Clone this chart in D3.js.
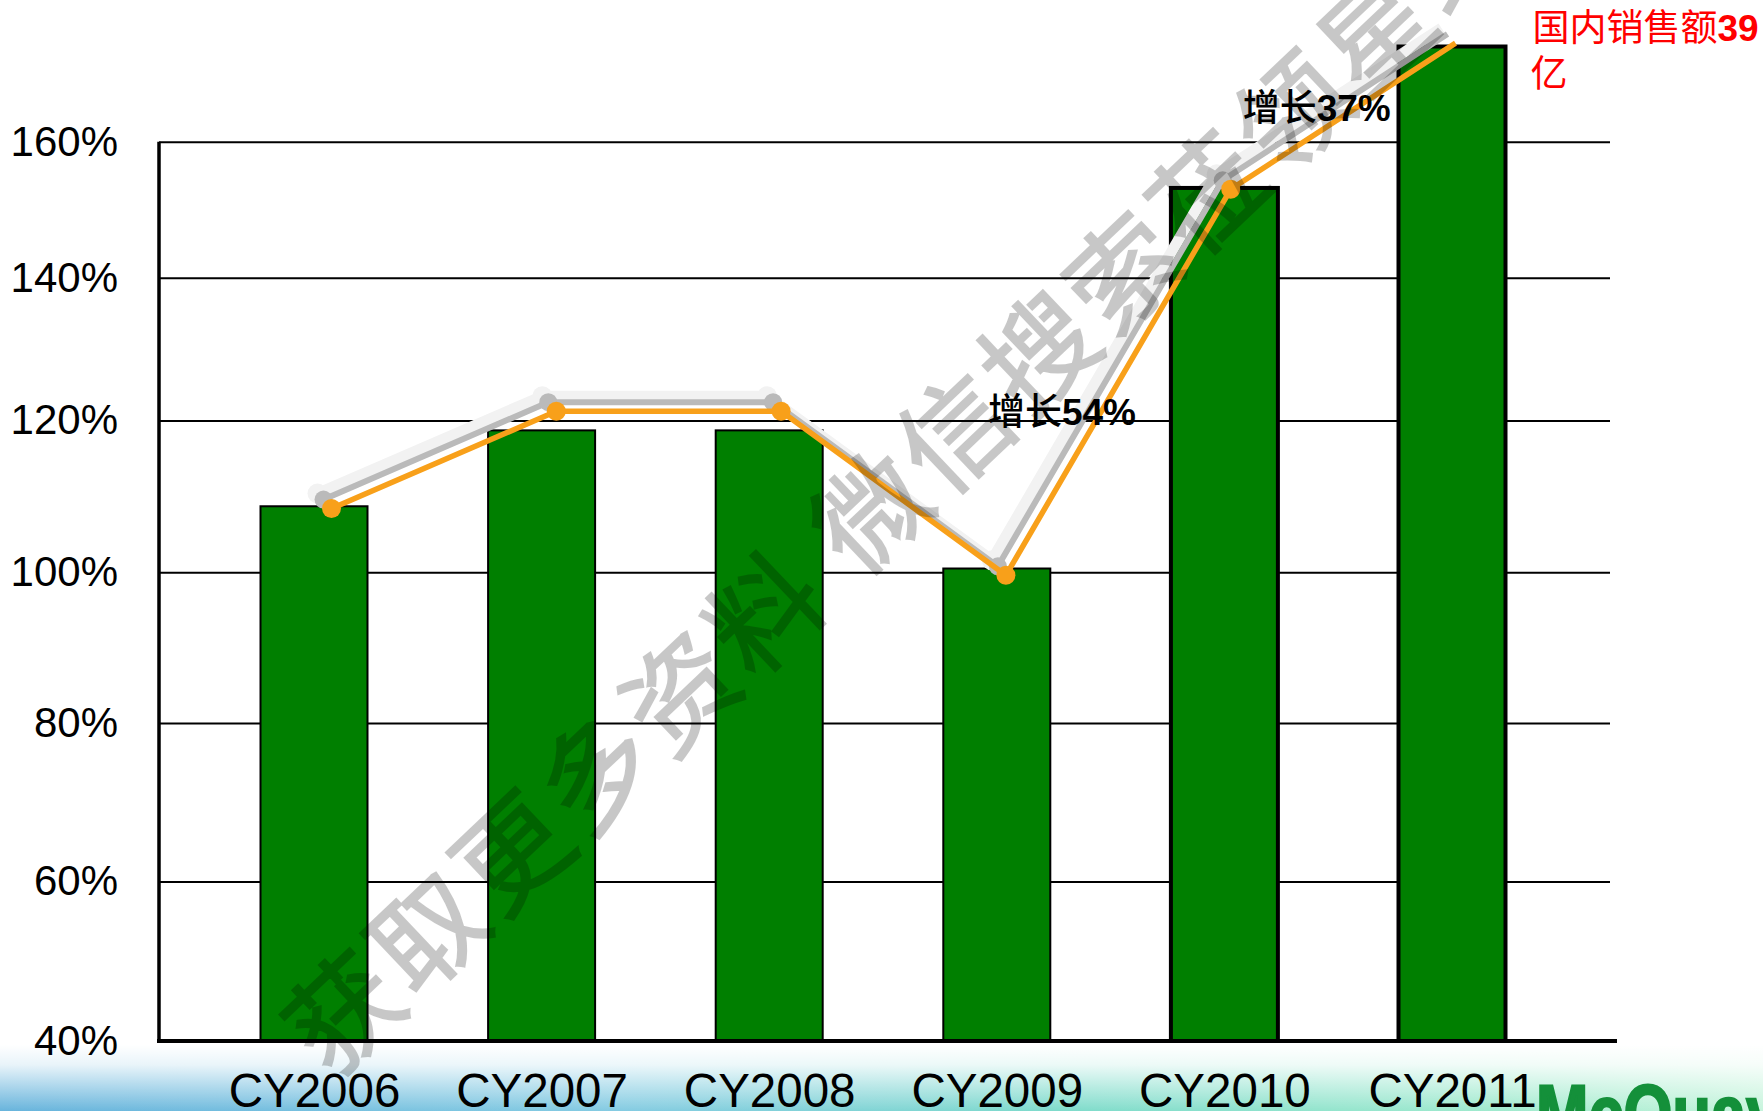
<!DOCTYPE html>
<html>
<head>
<meta charset="utf-8">
<script src="https://cdn.jsdelivr.net/npm/d3@7"></script>
<style>
  html, body { margin: 0; padding: 0; background: #fff; overflow: hidden; }
</style>
</head>
<body>
<div id="chart"></div>
<script>
// values (percent)
const years = ["CY2006", "CY2007", "CY2008", "CY2009", "CY2010", "CY2011"];
const barValues = [108.7, 118.7, 118.7, 100.5, 153.2, 174.0];
const lineValues = [108.4, 121.3, 121.3, 99.6, 153.0, 174.5];
const yTicks = [40, 60, 80, 100, 120, 140, 160];
const thickBars = ["CY2010", "CY2011"];
const growthNotes = [
  {year: "CY2009", word: "增长", num: "54%", value: 119.4, dx: -18},
  {year: "CY2010", word: "增长", num: "37%", value: 163, dx: 12}
];
const salesNote = ["国内销售额", "39", "亿"];
const watermark = "获取更多资料 微信搜索莅领星球";

const width = 1763;
const height = 1111;
const left = 159, right = 1610;

// the slide's value axis is not evenly spaced, so the scale is piecewise
const y = d3.scaleLinear()
    .domain(yTicks)
    .range([1041, 881.5, 723, 572.3, 420.5, 277.7, 141.7]);
const x = d3.scalePoint().domain(years).range([314, 1452]);
const xLine = d3.scalePoint().domain(years).range([331.5, 1455.5]);
const barW = 107;

const cjk = "'Noto Sans CJK SC', 'Noto Sans', sans-serif";
const latin = "'Liberation Sans', Arial, sans-serif";

const svg = d3.select("#chart").append("svg")
    .attr("width", width)
    .attr("height", height)
    .attr("viewBox", [0, 0, width, height]);

const defs = svg.append("defs");
const band = defs.append("linearGradient").attr("id", "band");
[["0", "#68b4dc"], ["0.35", "#84cbe2"], ["0.6", "#7edbcb"], ["0.85", "#a0eace"], ["1", "#c6f4dc"]]
  .forEach(([o, c]) => band.append("stop").attr("offset", o).attr("stop-color", c));
const fade = defs.append("linearGradient").attr("id", "fade")
    .attr("x1", 0).attr("x2", 0).attr("y1", 0).attr("y2", 1);
[["0", 1], ["0.3", 0.85], ["1", 0]]
  .forEach(([o, a]) => fade.append("stop").attr("offset", o).attr("stop-color", "#fff").attr("stop-opacity", a));

// bottom band of the slide
svg.append("rect").attr("x", 0).attr("y", 1045).attr("width", width).attr("height", height - 1045)
    .attr("fill", "url(#band)");
svg.append("rect").attr("x", 0).attr("y", 1045).attr("width", width).attr("height", height - 1045)
    .attr("fill", "url(#fade)");

// y axis with gridlines
const yAxis = svg.append("g")
    .attr("transform", `translate(${left},0)`)
    .call(d3.axisLeft(y).tickValues(yTicks).tickFormat(d => d + "%")
      .tickSizeInner(-(right - left)).tickSizeOuter(0).tickPadding(41));
yAxis.select(".domain").remove();
yAxis.selectAll(".tick line").attr("stroke", "#000").attr("stroke-width", 2);
yAxis.selectAll(".tick text")
    .attr("font-family", latin).attr("font-size", 42).attr("fill", "#000");

svg.append("line")
    .attr("x1", left).attr("x2", left).attr("y1", y(160)).attr("y2", y(40))
    .attr("stroke", "#000").attr("stroke-width", 3.5);

// bars
svg.append("g").selectAll("rect")
  .data(years)
  .join("rect")
    .attr("x", d => x(d) - barW / 2)
    .attr("y", (d, i) => y(barValues[i]))
    .attr("width", barW)
    .attr("height", (d, i) => y(40) - y(barValues[i]))
    .attr("fill", "#007f00")
    .attr("stroke", "#000")
    .attr("stroke-width", d => thickBars.includes(d) ? 4 : 2);

// category axis
svg.append("line")
    .attr("x1", left - 2).attr("x2", 1617).attr("y1", y(40)).attr("y2", y(40))
    .attr("stroke", "#000").attr("stroke-width", 4);
const xAxis = svg.append("g")
    .attr("transform", `translate(0,${y(40)})`)
    .call(d3.axisBottom(x).tickSize(0).tickPadding(32));
xAxis.select(".domain").remove();
xAxis.selectAll(".tick text")
    .attr("font-family", latin).attr("font-size", 47.5).attr("fill", "#000");

// growth line with its soft shadow
const pts = years.map((d, i) => [xLine(d), y(lineValues[i])]);
const line = d3.line();
const shadows = [
  {dx: -14, dy: -15, color: "#f2f2f2", w: 11, r: 10},
  {dx: -8, dy: -9, color: "#bababa", w: 6, r: 9}
];
shadows.forEach(s => {
  const g = svg.append("g").attr("transform", `translate(${s.dx},${s.dy})`);
  g.append("path").attr("d", line(pts)).attr("fill", "none")
      .attr("stroke", s.color).attr("stroke-width", s.w).attr("stroke-linejoin", "round");
  g.selectAll("circle").data(pts.slice(0, -1)).join("circle")
      .attr("cx", d => d[0]).attr("cy", d => d[1]).attr("r", s.r).attr("fill", s.color);
});
svg.append("path").attr("d", line(pts)).attr("fill", "none")
    .attr("stroke", "#f8a01a").attr("stroke-width", 5.5).attr("stroke-linejoin", "round");
svg.append("g").selectAll("circle").data(pts.slice(0, -1)).join("circle")
    .attr("cx", d => d[0]).attr("cy", d => d[1]).attr("r", 9.5).attr("fill", "#f8a01a");

// growth notes
growthNotes.forEach(n => {
  const t = svg.append("text")
      .attr("x", xLine(n.year) + n.dx).attr("y", y(n.value))
      .attr("font-size", 37).attr("fill", "#000");
  t.append("tspan").attr("font-family", cjk).attr("font-weight", 500).text(n.word);
  t.append("tspan").attr("font-family", latin).attr("font-weight", "bold").text(n.num);
});

// red sales note
const noteX = x("CY2011") + barW / 2 + 27;
const red = svg.append("text").attr("x", noteX).attr("y", 41)
    .attr("font-size", 37).attr("fill", "#ff0000");
red.append("tspan").attr("font-family", cjk).text(salesNote[0]);
red.append("tspan").attr("font-family", latin).attr("font-weight", "bold").text(salesNote[1]);
svg.append("text").attr("x", noteX - 2).attr("y", 87)
    .attr("font-size", 37).attr("fill", "#ff0000").attr("font-family", cjk)
    .text(salesNote[2]);

// logo peeking in at the bottom right
svg.append("text").attr("x", 1536).attr("y", 1142)
    .attr("font-family", latin).attr("font-weight", "bold").attr("font-size", 82)
    .attr("textLength", 245).attr("lengthAdjust", "spacingAndGlyphs")
    .attr("fill", "#14903a").attr("stroke", "#14903a").attr("stroke-width", 2.5)
    .text("McQuay");

// watermark
svg.append("g").attr("opacity", 0.216)
  .append("text")
    .attr("transform", "translate(332,1080) rotate(-43.5)")
    .attr("font-family", cjk).attr("font-size", 110).attr("letter-spacing", 6)
    .attr("fill", "#000").attr("stroke", "#000").attr("stroke-width", 2)
    .text(watermark);
</script>
</body>
</html>
